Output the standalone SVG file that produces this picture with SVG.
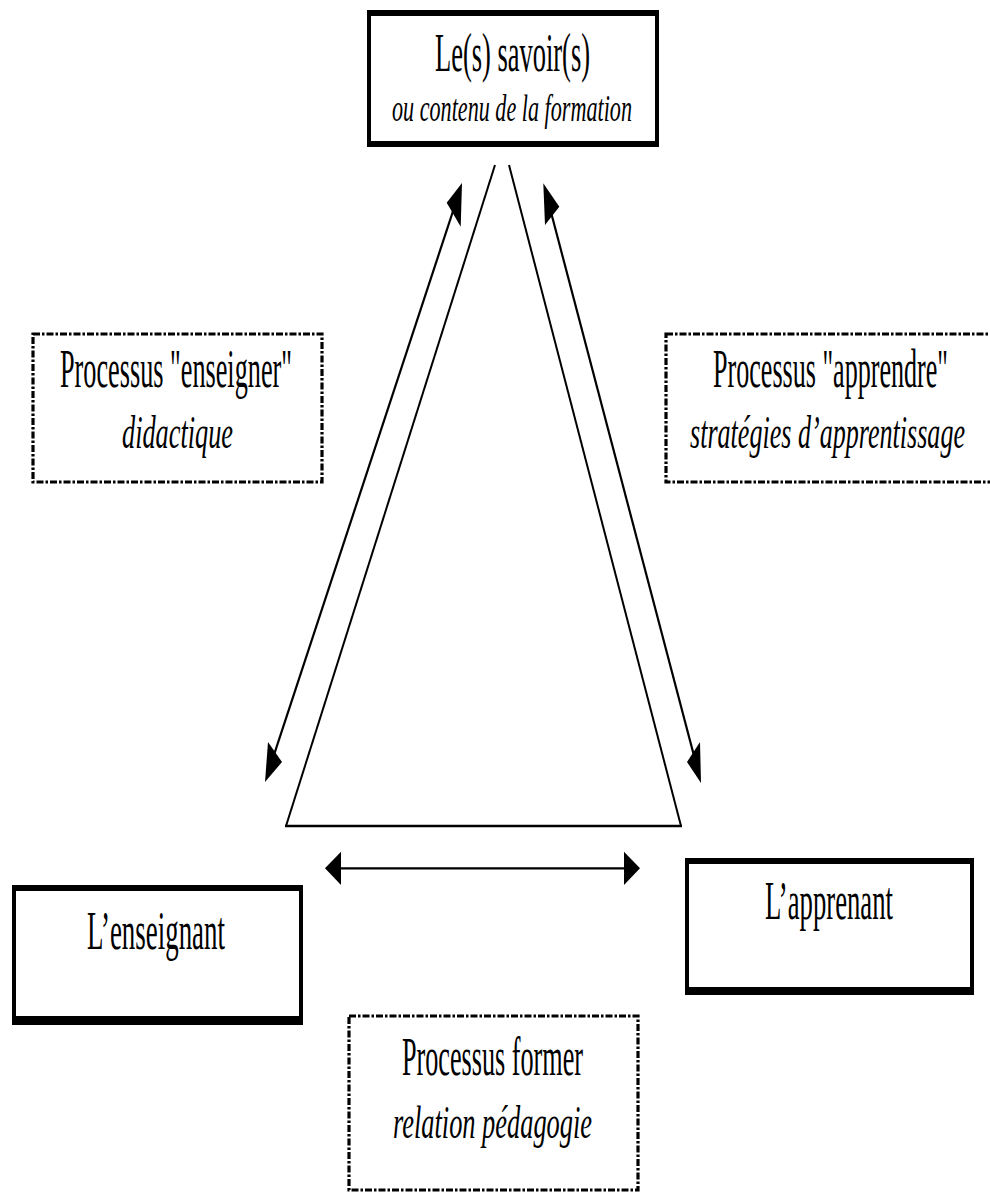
<svg xmlns="http://www.w3.org/2000/svg" width="990" height="1194" viewBox="0 0 990 1194">
<style>
.bg{fill:#fff}
.t{font-family:"Liberation Serif","Times New Roman",serif;fill:#000}
.up{font-size:54px}
.it{font-style:italic;font-size:46px}
.it2{font-style:italic;font-size:38px}
.dash{fill:none;stroke:#000;stroke-width:3.2;stroke-dasharray:7 2 2.5 2}
.bd{fill:#000}
.side{fill:none;stroke:#000;stroke-width:2}
.base{fill:none;stroke:#000;stroke-width:2.6}
.arr{fill:none;stroke:#000;stroke-width:2.2}
.head{fill:#000}
</style>
<rect class="bg" x="0" y="0" width="990" height="1194"/>

<g id="connectors">
  <line class="side" x1="495" y1="165" x2="286" y2="826"/>
  <line class="side" x1="509" y1="165" x2="681" y2="826"/>
  <line class="base" x1="285" y1="826" x2="682" y2="826"/>
  <line class="arr" x1="458" y1="196" x2="269" y2="770"/>
  <polygon class="head" points="462,183 446.7,202.7 460.7,226.7"/>
  <polygon class="head" points="268,742 282,762 265,782"/>
  <line class="arr" x1="547" y1="197" x2="698" y2="771"/>
  <polygon class="head" points="543.3,183.3 559.3,206.7 545,225"/>
  <polygon class="head" points="700,742 687,762 701,783"/>
  <line class="arr" x1="335" y1="868.3" x2="630" y2="868.3" stroke-width="2.6"/>
  <polygon class="head" points="325,868.3 341,851.7 341,885"/>
  <polygon class="head" points="640,868.3 624,851.7 624,885"/>
</g>

<g id="node-savoirs">
  <rect class="bg" x="367" y="10" width="292" height="137"/>
  <rect class="bd" x="367" y="10" width="292" height="6"/>
  <rect class="bd" x="367" y="141" width="292" height="6"/>
  <rect class="bd" x="367" y="10" width="4" height="137"/>
  <rect class="bd" x="655" y="10" width="4" height="137"/>
  <g transform="scale(0.5,1)">
    <text class="t up" x="870" y="71" textLength="310" lengthAdjust="spacingAndGlyphs">Le(s) savoir(s)</text>
    <text class="t it2" x="784" y="121" textLength="480" lengthAdjust="spacingAndGlyphs">ou contenu de la formation</text>
  </g>
</g>

<g id="node-enseigner">
  <rect class="dash" x="33" y="334" width="289" height="148"/>
  <g transform="scale(0.5,1)">
    <text class="t up" x="120" y="387" textLength="464" lengthAdjust="spacingAndGlyphs">Processus "enseigner"</text>
    <text class="t it" x="244" y="448" textLength="222" lengthAdjust="spacingAndGlyphs">didactique</text>
  </g>
</g>

<g id="node-apprendre">
  <rect class="dash" x="666" y="334" width="340" height="148"/>
  <g transform="scale(0.5,1)">
    <text class="t up" x="1426" y="387" textLength="470" lengthAdjust="spacingAndGlyphs">Processus "apprendre"</text>
    <text class="t it" x="1380" y="448" textLength="550" lengthAdjust="spacingAndGlyphs">stratégies d’apprentissage</text>
  </g>
</g>

<g id="node-enseignant">
  <rect class="bg" x="12" y="885" width="291" height="140"/>
  <rect class="bd" x="12" y="885" width="291" height="6"/>
  <rect class="bd" x="12" y="1016" width="291" height="9"/>
  <rect class="bd" x="12" y="885" width="4" height="140"/>
  <rect class="bd" x="299" y="885" width="4" height="140"/>
  <g transform="scale(0.5,1)">
    <text class="t up" x="174" y="949" textLength="276" lengthAdjust="spacingAndGlyphs">L’enseignant</text>
  </g>
</g>

<g id="node-apprenant">
  <rect class="bg" x="685" y="858" width="289" height="137"/>
  <rect class="bd" x="685" y="858" width="289" height="6"/>
  <rect class="bd" x="685" y="987" width="289" height="8"/>
  <rect class="bd" x="685" y="858" width="4" height="137"/>
  <rect class="bd" x="970" y="858" width="4" height="137"/>
  <g transform="scale(0.5,1)">
    <text class="t up" x="1530" y="919" textLength="256" lengthAdjust="spacingAndGlyphs">L’apprenant</text>
  </g>
</g>

<g id="node-former">
  <rect class="dash" x="349" y="1016" width="289" height="174"/>
  <g transform="scale(0.5,1)">
    <text class="t up" x="804" y="1075" textLength="362" lengthAdjust="spacingAndGlyphs">Processus former</text>
    <text class="t it" x="786" y="1138" textLength="398" lengthAdjust="spacingAndGlyphs">relation pédagogie</text>
  </g>
</g>
</svg>
